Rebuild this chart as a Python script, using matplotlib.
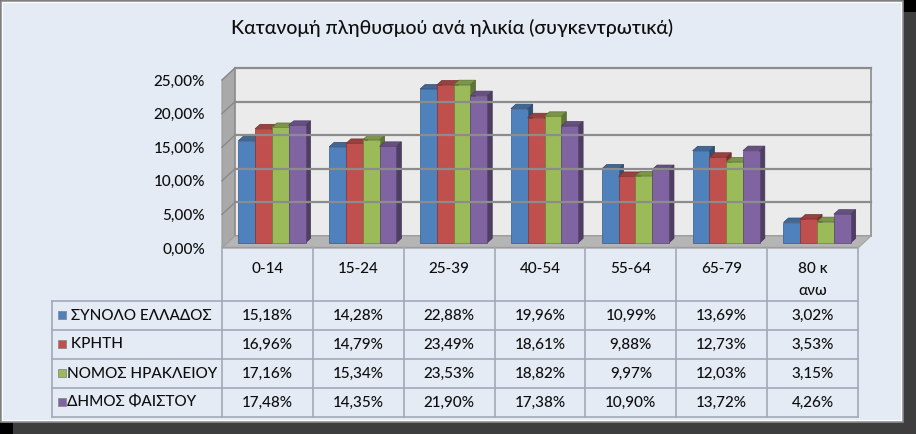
"""Κατανομή πληθυσμού ανά ηλικία: 3D-look clustered columns with a data table below."""

import matplotlib
matplotlib.use("Agg")
import matplotlib.pyplot as plt
from matplotlib.patches import Polygon, Rectangle
from matplotlib.colors import to_rgb

plt.rcParams["font.family"] = ["Lato", "DejaVu Sans"]
plt.rcParams["font.weight"] = "medium"

TITLE = "Κατανομή πληθυσμού ανά ηλικία (συγκεντρωτικά)"
categories = ["0-14", "15-24", "25-39", "40-54", "55-64", "65-79", "80 κ\nανω"]
series_names = [" ΣΥΝΟΛΟ ΕΛΛΑΔΟΣ", " ΚΡΗΤΗ", "ΝΟΜΟΣ ΗΡΑΚΛΕΙΟΥ", "ΔΗΜΟΣ ΦΑΙΣΤΟΥ"]
synolo_ellados = [15.18, 14.28, 22.88, 19.96, 10.99, 13.69, 3.02]
kriti = [16.96, 14.79, 23.49, 18.61, 9.88, 12.73, 3.53]
nomos_irakleiou = [17.16, 15.34, 23.53, 18.82, 9.97, 12.03, 3.15]
dimos_faistou = [17.48, 14.35, 21.90, 17.38, 10.90, 13.72, 4.26]
y_ticks = [0, 5, 10, 15, 20, 25]

series_values = [synolo_ellados, kriti, nomos_irakleiou, dimos_faistou]
colors = ["#4F81BD", "#C0504D", "#9BBB59", "#8064A2"]

W, H = 916, 434
TXT = "#0E0E0E"


def shade(c, f):
    r, g, b = to_rgb(c)
    return (r * f, g * f, b * f)


def fig_rect(x0, y0, x1, y1):
    """pixel box (top-left origin) -> figure fraction rect"""
    return [x0 / W, 1 - y1 / H, (x1 - x0) / W, (y1 - y0) / H]


fig = plt.figure(figsize=(W / 100, H / 100), dpi=100)
fig.patch.set_facecolor("#3E3E3E")

# chart area + shadow corners
bg = fig.add_axes([0, 0, 1, 1])
bg.set_xlim(0, W)
bg.set_ylim(H, 0)
bg.axis("off")
bg.add_patch(Rectangle((0, 422), 13, 12, color="black", lw=0))
bg.add_patch(Rectangle((903, 0), 13, 12, color="black", lw=0))
bg.add_patch(Rectangle((0.5, 0.5), 902, 421, facecolor="#E5EBF5", edgecolor="#8E8E8E", lw=1.2))
bg.add_patch(Rectangle((2, 2), 899, 418, facecolor="none", edgecolor="white", lw=0.8))
bg.text(452, 28, TITLE, ha="center", va="center", fontsize=14, color=TXT)

# plot area, data coords = front plane
ax = fig.add_axes(fig_rect(222, 80, 858, 248))
n = len(categories)
ax.set_xlim(0, n)
ax.set_ylim(0, 25)
ax.axis("off")

px_x = 636 / n
px_y = 168 / 25
wdx, wdy = 13 / px_x, 12 / px_y      # wall depth
bdx, bdy = 4.5 / px_x, 5.2 / px_y    # bar plane
ddx, ddy = 5 / px_x, 4.5 / px_y      # bar depth
bw = 16.8 / px_x
top = y_ticks[-1]
grid_c = "#8C8C8C"

ax.add_patch(Polygon([(0, 0), (wdx, wdy), (wdx, top + wdy), (0, top)],
                     closed=True, facecolor="#A9A9A9", edgecolor="#9A9A9A", lw=0.8, clip_on=False))
ax.add_patch(Rectangle((wdx, wdy), n, top, facecolor="#EBEBEB", edgecolor=grid_c, lw=1.2, clip_on=False))
ax.add_patch(Polygon([(0, 0), (n, 0), (n + wdx, wdy), (wdx, wdy)],
                     closed=True, facecolor="#B5B5B5", edgecolor="#A0A0A0", lw=0.8, clip_on=False))
for t in y_ticks[1:]:
    ax.plot([wdx, n + wdx], [t + wdy, t + wdy], color=grid_c, lw=1.6, clip_on=False)
    ax.plot([0, wdx], [t, t + wdy], color="#8A8A8A", lw=1.0, clip_on=False)

for t in y_ticks:
    ax.text(-17 / px_x, t - 1.5 / px_y, f"{t:.2f}%".replace(".", ","), ha="right", va="center",
            fontsize=11, color=TXT, clip_on=False)

for i in range(n):
    cx = i + 0.5 + bdx
    for j, vals in enumerate(series_values):
        v = vals[i]
        x0 = cx - 2 * bw + j * bw
        c = colors[j]
        ax.add_patch(Polygon([(x0 + bw, bdy), (x0 + bw + ddx, bdy + ddy),
                              (x0 + bw + ddx, v + bdy + ddy), (x0 + bw, v + bdy)],
                             closed=True, facecolor=shade(c, 0.62), edgecolor=shade(c, 0.5), lw=0.5, clip_on=False))
        ax.add_patch(Polygon([(x0, v + bdy), (x0 + bw, v + bdy),
                              (x0 + bw + ddx, v + bdy + ddy), (x0 + ddx, v + bdy + ddy)],
                             closed=True, facecolor=shade(c, 0.8), edgecolor=shade(c, 0.6), lw=0.5, clip_on=False))
        ax.bar(x0, v, width=bw, bottom=bdy, align="edge", color=c,
               edgecolor=shade(c, 0.7), lw=0.5, clip_on=False)

# data table, x in category units, y in pixels
legend_w = 170 / px_x
tax = fig.add_axes(fig_rect(52, 247, 858, 417))
tax.set_xlim(-legend_w, n)
tax.set_ylim(417, 247)
tax.axis("off")
line_c = "#A3AAB5"
head_top, head_bot, row_h = 247, 301, 29
rows_bot = head_bot + row_h * len(series_values)

tax.plot([0, n], [head_top, head_top], color="#9C9C9C", lw=1, clip_on=False)
for k in range(n + 1):
    tax.plot([k, k], [head_top, rows_bot], color=line_c, lw=1.2, clip_on=False)
tax.plot([-legend_w, -legend_w], [head_bot, rows_bot], color=line_c, lw=1.2, clip_on=False)
for r in range(len(series_values) + 1):
    y = head_bot + r * row_h
    tax.plot([-legend_w, n], [y, y], color=line_c, lw=1.2, clip_on=False)

for i, lab in enumerate(categories):
    for k, part in enumerate(lab.split("\n")):
        tax.text(i + 0.5, 269 + 22 * k, part, ha="center", va="center", fontsize=11, color=TXT)

for r, (name, vals) in enumerate(zip(series_names, series_values)):
    yc = head_bot + r * row_h + row_h / 2
    tax.add_patch(Rectangle((-legend_w + 6 / px_x, yc - 5), 8 / px_x, 8,
                            facecolor=colors[r], edgecolor="#8A8A8A", lw=0.6, clip_on=False))
    tax.text(-legend_w + 15 / px_x, yc, name, ha="left", va="center", fontsize=11, color=TXT)
    for i, v in enumerate(vals):
        tax.text(i + 0.5, yc, f"{v:.2f}%".replace(".", ","), ha="center", va="center",
                 fontsize=11, color=TXT)

fig.savefig("out.png", dpi=100, facecolor=fig.get_facecolor())
